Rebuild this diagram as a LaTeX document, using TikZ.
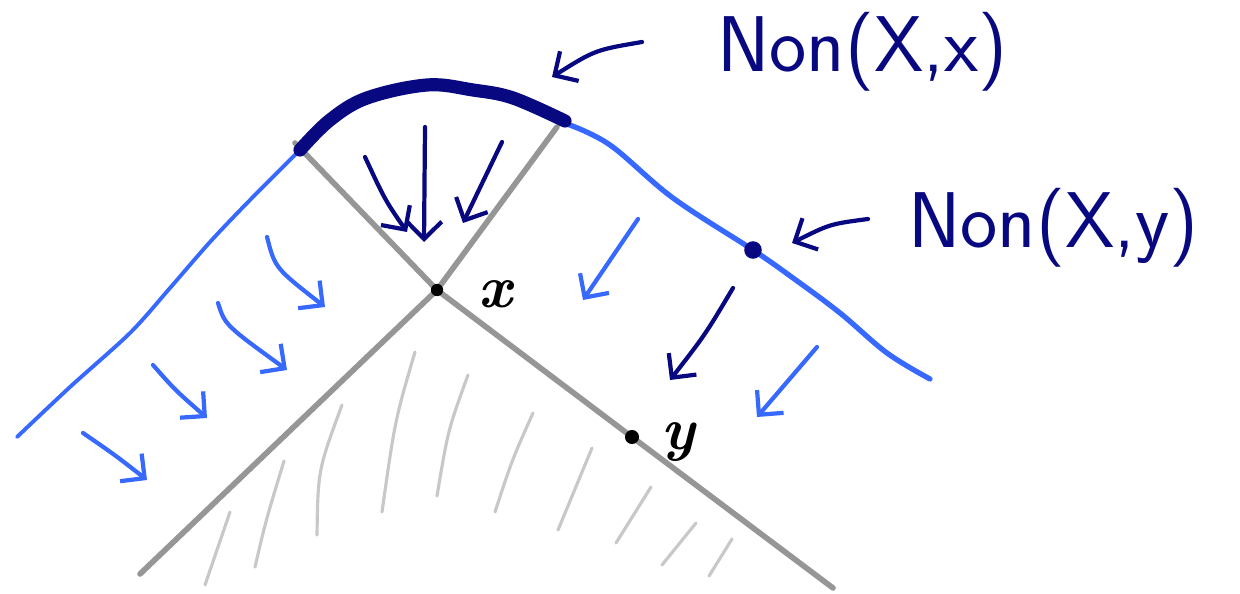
\documentclass[tikz,border=0pt]{standalone}
\usepackage{fontspec}
\usepackage{tikz}
\usetikzlibrary{arrows.meta}
\definecolor{inkNavy}{RGB}{8,8,128}
\definecolor{inkBlue}{RGB}{55,105,255}
\definecolor{penGray}{RGB}{150,150,150}
\definecolor{hatchGray}{RGB}{200,200,200}
\tikzset{
  edgeline/.style ={draw=penGray, line width=3.2pt, line cap=round},
  hatch/.style    ={draw=hatchGray, line width=1.8pt, line cap=round},
  front/.style    ={draw=inkBlue, line width=3pt, line cap=round, line join=round},
  capstroke/.style={draw=inkNavy, line width=7.5pt, line cap=round, line join=round},
  flowarrow/.style={draw=inkBlue, line width=2.4pt, line cap=round, line join=round,
                    -{Straight Barb[length=3.5mm, width=7mm]}},
  inkarrow/.style ={draw=inkNavy, line width=2.4pt, line cap=round, line join=round,
                    -{Straight Barb[length=3.5mm, width=7mm]}},
  dot/.style      ={circle, fill=black, inner sep=0pt, minimum size=9pt},
  handtext/.style ={text=inkNavy, inner sep=0pt,
                    font=\sffamily\fontsize{45}{50}\selectfont\addfontfeatures{LetterSpace=12}},
  ptlabel/.style  ={font=\bfseries\itshape\fontsize{34}{40}\selectfont, inner sep=0pt}
}
\begin{document}
\begin{tikzpicture}[x=0.02cm, y=-0.02cm]
  \useasboundingbox (0,0) rectangle (1240,594);

  \coordinate (xpt) at (437,290);
  \coordinate (ypt) at (632,437);
  \coordinate (npt) at (753,250);

  % shaded side
  \draw[hatch] (230,512) -- (205,585);
  \draw[hatch] (284,461) .. controls (266,520) .. (255,567);
  \draw[hatch] (342,405) .. controls (318,470) .. (317,535);
  \draw[hatch] (415,352) .. controls (395,420) .. (382,512);
  \draw[hatch] (468,375) .. controls (448,430) .. (437,496);
  \draw[hatch] (533,413) .. controls (512,460) .. (495,512);
  \draw[hatch] (592,448) -- (558,530);
  \draw[hatch] (651,487) -- (616,543);
  \draw[hatch] (696,523) -- (662,565);
  \draw[hatch] (732,539) -- (709,576);

  % the two lines
  \draw[edgeline] (295,143) -- (xpt) -- (ypt) -- (833,588);
  \draw[edgeline] (557,127) -- (xpt) -- (140,574);

  % blue front
  \draw[front, line width=2.2pt] plot[smooth, tension=0.5] coordinates
    {(17,437) (70,387) (130,333) (170,288) (210,242) (250,200) (300,150)};
  \draw[front] plot[smooth, tension=0.6] coordinates
    {(567,124) (610,145) (673,198) (npt) (793,278) (840,313) (887,353) (930,379)};

  % Non(X,x) cap
  \draw[capstroke] plot[smooth, tension=0.6] coordinates
    {(300,150) (330,120) (367,98) (427,85) (473,90) (513,98) (565,121)};

  % blue arrows, left side
  \draw[flowarrow] (267,237) .. controls (275,268) .. (325,307);
  \draw[flowarrow] (218,303) .. controls (225,325) .. (287,370);
  \draw[flowarrow] (153,365) .. controls (175,390) .. (207,418);
  \draw[flowarrow] (83,433) .. controls (115,455) .. (147,480);
  % blue arrows, right side
  \draw[flowarrow] (638,219) -- (583,300);
  \draw[flowarrow] (817,347) -- (757,417);

  % navy arrows
  \draw[inkarrow] (365,157) .. controls (385,200) .. (407,232);
  \draw[inkarrow] (425,127) -- (424,242);
  \draw[inkarrow] (502,142) -- (463,223);
  \draw[inkarrow] (733,288) .. controls (705,335) .. (670,380);
  \draw[inkarrow] (642,42) .. controls (595,50) .. (552,77);
  \draw[inkarrow] (868,219) .. controls (830,224) .. (792,243);

  % points
  \node[dot, minimum size=7pt] (xdot) at (xpt) {};
  \node[dot, minimum size=8pt] (ydot) at (ypt) {};
  \node[dot, fill=inkNavy, minimum size=10pt] (ndot) at (npt) {};

  \node[ptlabel] (xlab) at (495,294) {x};
  \node[ptlabel] (ylab) at (678,442) {y};

  \node[handtext, anchor=base west] (nonx) at (717,72) {Non(X,x)};
  \node[handtext, anchor=base west] (nony) at (908,248) {Non(X,y)};
\end{tikzpicture}
\end{document}
